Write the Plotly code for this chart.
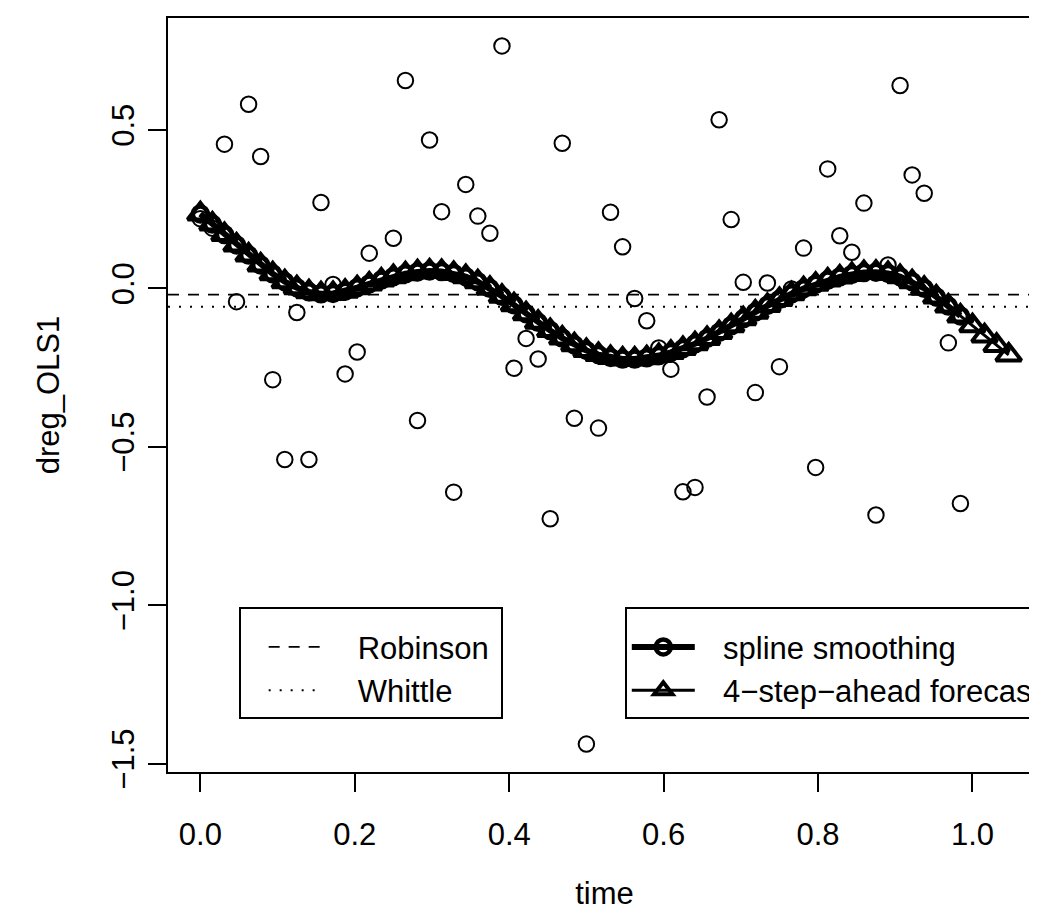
import plotly.graph_objects as go

# ---------------- data ----------------
n_obs = 64
step = 1 / 64
time = [k * step for k in range(n_obs)]

dreg_OLS1 = [0.22, 0.19, 0.455, -0.042, 0.581, 0.416, -0.288, -0.540, -0.076, -0.540,
             0.271, 0.012, -0.270, -0.201, 0.111, 0.03, 0.158, 0.656, -0.417, 0.468,
             0.242, -0.643, 0.328, 0.228, 0.174, 0.765, -0.252, -0.158, -0.223, -0.727,
             0.458, -0.410, -1.438, -0.441, 0.240, 0.131, -0.032, -0.102, -0.188, -0.255,
             -0.642, -0.628, -0.343, 0.532, 0.217, 0.019, -0.329, 0.017, -0.247, -0.002,
             0.127, -0.565, 0.377, 0.166, 0.114, 0.269, -0.715, 0.074, 0.640, 0.358,
             0.300, -0.03, -0.172, -0.679]

spline_smoothing = [0.235, 0.203, 0.170, 0.137, 0.105, 0.074, 0.046, 0.021, 0.002, -0.011,
                    -0.017, -0.016, -0.009, 0.002, 0.014, 0.026, 0.037, 0.046, 0.052, 0.055,
                    0.053, 0.047, 0.037, 0.021, 0.0, -0.025, -0.052, -0.080, -0.107, -0.133,
                    -0.157, -0.178, -0.196, -0.209, -0.218, -0.223, -0.223, -0.219, -0.212, -0.202,
                    -0.190, -0.175, -0.158, -0.139, -0.118, -0.096, -0.075, -0.054, -0.035, -0.017,
                    -0.001, 0.013, 0.026, 0.036, 0.044, 0.050, 0.051, 0.047, 0.037, 0.021,
                    0.0, -0.027, -0.056, -0.087]

forecast_ahead = [-0.118, -0.150, -0.180, -0.210]
forecast = spline_smoothing + forecast_ahead
time_forecast = [k * step for k in range(len(forecast))]

robinson_mean = -0.020
whittle_mean = -0.058

x_ticks = [0.0, 0.2, 0.4, 0.6, 0.8, 1.0]
y_ticks = [-1.5, -1.0, -0.5, 0.0, 0.5]

legend_names_1 = ["Robinson", "Whittle"]
legend_names_2 = ["spline smoothing", "4\u2212step\u2212ahead forecast"]

# ---------------- axis ranges (R style 4% extension) ----------------
def r_range(vals):
    lo, hi = min(vals), max(vals)
    d = hi - lo
    return [lo - 0.04 * d, hi + 0.04 * d]

x_range = r_range(time_forecast)
y_range = r_range(dreg_OLS1)

FONT = "Liberation Sans, Arial, Helvetica, sans-serif"
FS = 31

fig = go.Figure()

fig.add_trace(go.Scatter(
    x=time, y=dreg_OLS1, mode="markers", showlegend=False, name="dreg_OLS1",
    marker=dict(symbol="circle-open", size=15.5, color="black", line=dict(width=2)),
    cliponaxis=True))

fig.add_trace(go.Scatter(
    x=[x_range[0], x_range[1]], y=[robinson_mean, robinson_mean], mode="lines",
    name="\u2003" + legend_names_1[0] + "\u2005", legend="legend",
    line=dict(color="black", width=1.8, dash="11px,9px")))
fig.add_trace(go.Scatter(
    x=[x_range[0], x_range[1]], y=[whittle_mean, whittle_mean], mode="lines",
    name="\u2003" + legend_names_1[1], legend="legend",
    line=dict(color="black", width=1.8, dash="2px,9px")))

fig.add_trace(go.Scatter(
    x=time, y=spline_smoothing, mode="lines+markers",
    name="\u2002\u2005" + legend_names_2[0], legend="legend2",
    line=dict(color="black", width=6),
    marker=dict(symbol="circle-open", size=15, color="black", line=dict(width=4.5))))
fig.add_trace(go.Scatter(
    x=time_forecast, y=forecast, mode="lines+markers",
    name="\u2002\u2005" + legend_names_2[1], legend="legend2",
    line=dict(color="black", width=3),
    marker=dict(symbol="triangle-up-open", size=22, color="black", line=dict(width=4))))

axis_common = dict(
    showgrid=False, zeroline=False, showline=True, mirror=True,
    linecolor="black", linewidth=1.6, ticks="outside", ticklen=18, tickwidth=1.6,
    tickcolor="black", tickfont=dict(family=FONT, size=FS, color="black"),
    tickformat=".1f",
)

legend_common = dict(
    yanchor="top", xanchor="left", bordercolor="black", borderwidth=1.6,
    bgcolor="white", font=dict(family=FONT, size=FS, color="black"),
    tracegroupgap=0,
    title=dict(text="\u00a0", font=dict(family=FONT, size=9)),
)

fig.update_layout(
    width=1037, height=919,
    paper_bgcolor="white", plot_bgcolor="white",
    margin=dict(l=160, r=4, t=10, b=155, autoexpand=False),
    font=dict(family=FONT, size=FS, color="black"),
    xaxis=dict(range=x_range, tickvals=x_ticks, ticklabelstandoff=16,
               title=dict(text="time", font=dict(family=FONT, size=FS), standoff=31),
               **axis_common),
    yaxis=dict(range=y_range, tickvals=y_ticks, tickangle=-90, ticklabelstandoff=2,
               title=dict(text="dreg_OLS1", font=dict(family=FONT, size=FS), standoff=37),
               **axis_common),
    legend=dict(x=0.0814, y=0.2188, itemwidth=53, indentation=23, **legend_common),
    legend2=dict(x=0.5237, y=0.2188, itemwidth=63, **legend_common),
)

fig.write_html("out.html")
